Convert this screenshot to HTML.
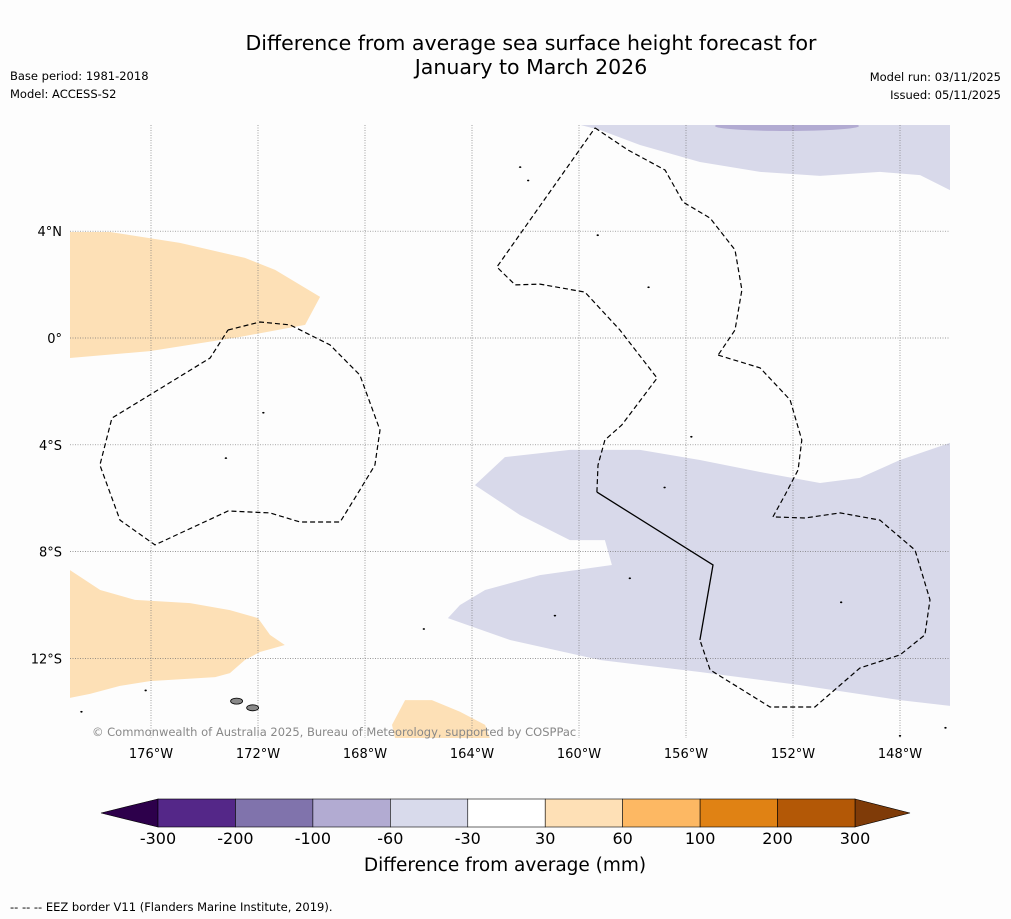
<!DOCTYPE html>
<html><head><meta charset="utf-8">
<style>
body{margin:0;background:#fff;font-family:"DejaVu Sans","Liberation Sans",sans-serif;}
svg{display:block;font-family:"DejaVu Sans","Liberation Sans",sans-serif}
</style></head>
<body>
<svg id="chart" width="1011" height="919" viewBox="0 0 1011 919" xmlns="http://www.w3.org/2000/svg">
<rect width="1011" height="919" fill="#fdfdfd"/>
<text x="531" y="50" text-anchor="middle" font-size="20.5">Difference from average sea surface height forecast for</text>
<text x="531" y="74" text-anchor="middle" font-size="20.5">January to March 2026</text>
<text x="10" y="80" font-size="11.5">Base period: 1981-2018</text>
<text x="10" y="98" font-size="11.5">Model: ACCESS-S2</text>
<text x="1001" y="81" font-size="11.5" text-anchor="end">Model run: 03/11/2025</text>
<text x="1001" y="99" font-size="11.5" text-anchor="end">Issued: 05/11/2025</text>
<g id="map"></g>
<g id="cbar"></g>
<text x="505" y="871" text-anchor="middle" font-size="18.5">Difference from average (mm)</text>
<text x="10" y="911" font-size="11.5">--  --  -- EEZ border V11 (Flanders Marine Institute, 2019).</text>
</svg>
<script>
const lonTicks=[-176,-172,-168,-164,-160,-156,-152,-148];
const latTicks=[4,0,-4,-8,-12];
const orangeNorth=[[-179.03,3.97],[-177.53,3.97],[-174.92,3.56],[-172.49,3.0],[-171.36,2.55],[-169.68,1.54],[-170.24,0.49],[-172.67,0.04],[-176.04,-0.49],[-179.03,-0.75]];
const orangeSouth=[[-179.03,-8.69],[-177.9,-9.44],[-176.6,-9.81],[-174.54,-9.93],[-173.05,-10.19],[-172,-10.49],[-171.55,-11.12],[-171,-11.5],[-171.93,-11.76],[-172.49,-12.06],[-173.05,-12.55],[-173.6,-12.7],[-176.04,-12.85],[-177.16,-13.03],[-178.28,-13.33],[-179.03,-13.48]];
const orangeSmall=[[-166.5,-13.56],[-165.5,-13.56],[-164.45,-14.0],[-163.51,-14.49],[-163.33,-14.98],[-166.88,-14.98],[-166.99,-14.49]];
const purpleTop=[[-159.96,7.98],[-159.21,7.79],[-157.72,7.23],[-155.48,6.59],[-153.23,6.22],[-150.99,6.07],[-148.75,6.22],[-147.25,6.1],[-146.13,5.54],[-146.13,7.98]];
const purpleMain=[[-163.89,-5.51],[-162.77,-4.46],[-160.34,-4.19],[-157.72,-4.19],[-155.48,-4.57],[-153.23,-5.02],[-150.99,-5.43],[-149.5,-5.24],[-148,-4.57],[-146.13,-3.93],[-146.13,-13.78],[-148,-13.56],[-151.74,-13.0],[-155.48,-12.51],[-159.21,-12.06],[-162.58,-11.31],[-164.9,-10.49],[-164.45,-10.0],[-163.51,-9.44],[-161.46,-8.88],[-158.77,-8.5],[-159.03,-7.57],[-160.34,-7.57],[-162.21,-6.63]];
const eezWest=[[-173.12,0.3],[-171.93,0.6],[-170.8,0.49],[-169.31,-0.26],[-168.19,-1.39],[-167.44,-3.45],[-167.63,-4.76],[-168.19,-5.69],[-168.93,-6.89],[-170.43,-6.89],[-171.55,-6.55],[-173.12,-6.48],[-175.85,-7.75],[-177.16,-6.82],[-177.91,-4.76],[-177.46,-3.0],[-176.04,-2.13],[-173.79,-0.75],[-173.12,0.3]];
const eezNorth=[[-159.4,7.87],[-158.17,7.04],[-156.78,6.29],[-156.11,5.09],[-155.1,4.49],[-154.17,3.3],[-153.91,1.8],[-154.17,0.3],[-154.8,-0.64]];
const eezEast=[[-154.8,-0.64],[-153.23,-1.12],[-152.11,-2.32],[-151.67,-3.82],[-151.81,-4.94],[-152.3,-5.88],[-152.75,-6.7],[-151.55,-6.74],[-150.24,-6.55],[-148.75,-6.82],[-147.44,-7.94],[-146.88,-9.81],[-147.07,-11.12],[-148,-11.87],[-149.5,-12.36],[-151.18,-13.82],[-152.86,-13.82],[-155.1,-12.43],[-155.48,-11.31]];
const eezCentral=[[-159.33,-5.77],[-159.29,-4.76],[-159.03,-3.82],[-158.4,-3.26],[-157.08,-1.5],[-158.47,0.3],[-159.78,1.72],[-161.46,2.02],[-162.39,1.99],[-163.07,2.66],[-159.4,7.87]];
const boundarySolid=[[-159.33,-5.77],[-154.99,-8.5],[-155.48,-11.31]];
const islands=[[-178.6,-14.0],[-176.2,-13.2],[-171.8,-2.8],[-173.2,-4.5],[-157.4,1.9],[-159.3,3.85],[-160.9,-10.4],[-158.1,-9.0],[-165.8,-10.9],[-150.2,-9.9],[-155.8,-3.7],[-156.8,-5.6],[-162.2,6.4],[-161.9,5.9],[-148.0,-14.9],[-146.3,-14.6]];
const bigIslands=[[-172.8,-13.6],[-172.2,-13.85]];
const cbColors=["#542788","#8073ac","#b2abd2","#d8daeb","#ffffff","#fee0b6","#fdb863","#e08214","#b35806"];
const cbLabels=["-300","-200","-100","-60","-30","30","60","100","200","300"];

const NS="http://www.w3.org/2000/svg";
const X0=70,X1=950,Y0=125,Y1=738;
const px=lon=>151+(lon+176)*26.75;
const py=lat=>338-lat*26.7;
const map=document.getElementById('map');
function mk(tag,attrs,parent){const e=document.createElementNS(NS,tag);for(const k in attrs)e.setAttribute(k,attrs[k]);(parent||map).appendChild(e);return e;}
const pts=a=>a.map(p=>px(p[0]).toFixed(1)+","+py(p[1]).toFixed(1)).join(" ");
const defs=mk('defs',{});
const cp=mk('clipPath',{id:'clip'},defs);mk('rect',{x:X0,y:Y0,width:X1-X0,height:Y1-Y0},cp);
const g=mk('g',{'clip-path':'url(#clip)'});
function poly(a,fill,name){const e=mk('polygon',{points:pts(a),fill:fill},g);

}
poly(orangeNorth,'#fde0b6','anomaly-positive-north');
poly(orangeSouth,'#fde0b6','anomaly-positive-south');
poly(orangeSmall,'#fde0b6','anomaly-positive-small');
poly(purpleTop,'#d8d9ea','anomaly-negative-north');
poly(purpleMain,'#d8d9ea','anomaly-negative-main');
const dark=mk('ellipse',{cx:787,cy:126,rx:72,ry:5,fill:'#b2abd2'},g);


lonTicks.forEach(l=>{const x=px(l);
const ln=mk('line',{x1:x,y1:Y0,x2:x,y2:Y1,stroke:'#777','stroke-width':0.7,'stroke-dasharray':'1,1.5'},g);


const t=mk('text',{x:x,y:758,'text-anchor':'middle','font-size':13});t.textContent=Math.abs(l)+"°W";

});
latTicks.forEach(l=>{const y=py(l);
const ln=mk('line',{x1:X0,y1:y,x2:X1,y2:y,stroke:'#777','stroke-width':0.7,'stroke-dasharray':'1,1.5'},g);


const t=mk('text',{x:62,y:y+5,'text-anchor':'end','font-size':13});t.textContent=l===0?"0°":Math.abs(l)+"°"+(l>0?"N":"S");

});
[[eezWest,'eez-border-west'],[eezNorth,'eez-border-north'],[eezEast,'eez-border-east'],[eezCentral,'eez-border-central']].forEach(([a,n])=>{
const e=mk('polyline',{points:pts(a),fill:'none',stroke:'#000','stroke-width':1.2,'stroke-dasharray':'5,3'},g);

});
const sb=mk('polyline',{points:pts(boundarySolid),fill:'none',stroke:'#000','stroke-width':1.3},g);


islands.forEach(p=>{const e=mk('ellipse',{cx:px(p[0]),cy:py(p[1]),rx:1.2,ry:0.9,fill:'#000'},g);

});
bigIslands.forEach(p=>{const e=mk('ellipse',{cx:px(p[0]),cy:py(p[1]),rx:6,ry:3,fill:'#888',stroke:'#000','stroke-width':0.8},g);

});
const cr=mk('text',{x:92,y:736,'font-size':11.5,fill:'#888'});cr.textContent="© Commonwealth of Australia 2025, Bureau of Meteorology, supported by COSPPac";



const cb=document.getElementById('cbar');
const cx0=158,cx1=855,cy0=799,cy1=827,sw=(cx1-cx0)/cbColors.length;
const tl=mk('polygon',{points:`${cx0},${cy0} ${cx0},${cy1} 101,813`,fill:'#2d004b',stroke:'#000','stroke-width':0.6},cb);


const tr=mk('polygon',{points:`${cx1},${cy0} ${cx1},${cy1} 910,813`,fill:'#7f3b08',stroke:'#000','stroke-width':0.6},cb);


cbColors.forEach((c,i)=>{const r=mk('rect',{x:cx0+i*sw,y:cy0,width:sw,height:cy1-cy0,fill:c,stroke:'#000','stroke-width':0.6},cb);

});
cbLabels.forEach((s,i)=>{const t=mk('text',{x:cx0+i*sw,y:844,'text-anchor':'middle','font-size':16},cb);t.textContent=s;

});
</script>
</body></html>
